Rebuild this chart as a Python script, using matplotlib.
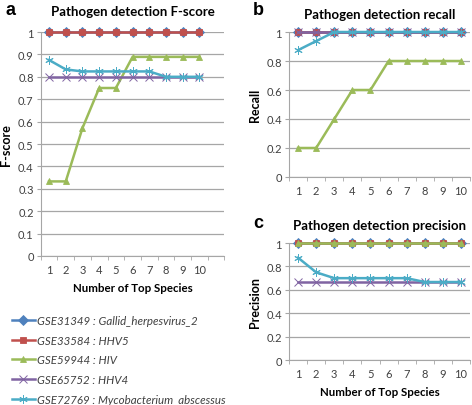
import numpy as np
import matplotlib
from matplotlib import pyplot as plt

matplotlib.rcParams.update({'font.family': 'Lato', 'font.size': 8})

top_species = [1, 2, 3, 4, 5, 6, 7, 8, 9, 10]
series_names = ['GSE31349 : Gallid_herpesvirus_2', 'GSE33584 : HHV5', 'GSE59944 : HIV',
                'GSE65752 : HHV4', 'GSE72769 : Mycobacterium_abscessus']

fscore_gallid = [1, 1, 1, 1, 1, 1, 1, 1, 1, 1]
fscore_hhv5 = [1, 1, 1, 1, 1, 1, 1, 1, 1, 1]
fscore_hiv = [0.333, 0.333, 0.571, 0.75, 0.75, 0.889, 0.889, 0.889, 0.889, 0.889]
fscore_hhv4 = [0.8, 0.8, 0.8, 0.8, 0.8, 0.8, 0.8, 0.8, 0.8, 0.8]
fscore_myco = [0.875, 0.833, 0.824, 0.824, 0.824, 0.824, 0.824, 0.8, 0.8, 0.8]

recall_gallid = [1, 1, 1, 1, 1, 1, 1, 1, 1, 1]
recall_hhv5 = [1, 1, 1, 1, 1, 1, 1, 1, 1, 1]
recall_hiv = [0.2, 0.2, 0.4, 0.6, 0.6, 0.8, 0.8, 0.8, 0.8, 0.8]
recall_hhv4 = [1, 1, 1, 1, 1, 1, 1, 1, 1, 1]
recall_myco = [0.875, 0.9375, 1, 1, 1, 1, 1, 1, 1, 1]

precision_gallid = [1, 1, 1, 1, 1, 1, 1, 1, 1, 1]
precision_hhv5 = [1, 1, 1, 1, 1, 1, 1, 1, 1, 1]
precision_hiv = [1, 1, 1, 1, 1, 1, 1, 1, 1, 1]
precision_hhv4 = [0.667, 0.667, 0.667, 0.667, 0.667, 0.667, 0.667, 0.667, 0.667, 0.667]
precision_myco = [0.875, 0.75, 0.7, 0.7, 0.7, 0.7, 0.7, 0.667, 0.667, 0.667]

colors = ['#4F81BD', '#C0504D', '#9BBB59', '#8064A2', '#4BACC6']
markers = ['D', 's', '^', 'x', (6, 2, 0)]
grid_col = '#A6A6A6'
text_col = '#404040'


def draw_panel(ax, data, title, ylabel, ystep, n_slots, title_pad, xlabel=True):
    for i, vals in enumerate(data):
        thin = i >= 3
        ax.plot(top_species, vals, color=colors[i], marker=markers[i],
                markersize=6 if thin else 5, linewidth=1.8,
                markeredgewidth=0.7 if thin else 0.6,
                markeredgecolor=colors[i], zorder=3 + i, clip_on=False,
                label=series_names[i])
    ax.set_xlim(0.5, n_slots + 0.5)
    ax.set_ylim(0, 1)
    ax.set_yticks(np.arange(0, 1.0001, ystep))
    ax.set_yticklabels(['0'] + ['%g' % v for v in np.arange(ystep, 1.0001, ystep)])
    ax.set_xticks(top_species)
    ax.set_xticks(np.arange(0.5, n_slots + 0.51, 1), minor=True)
    ax.tick_params(axis='x', which='major', length=0, pad=6, colors=text_col, labelsize=8)
    ax.tick_params(axis='x', which='minor', length=3, color=grid_col, direction='out')
    ax.tick_params(axis='y', length=3, color=grid_col, pad=2, colors=text_col, labelsize=8)
    ax.yaxis.grid(True, color=grid_col, linewidth=0.9)
    ax.set_axisbelow(True)
    for s in ['top', 'right']:
        ax.spines[s].set_visible(False)
    for s in ['left', 'bottom']:
        ax.spines[s].set_color(grid_col)
    ax.set_title(title, fontsize=9.5, fontweight='bold', pad=title_pad)
    ax.set_ylabel(ylabel, fontsize=9, fontweight='bold', labelpad=4)
    if xlabel:
        ax.set_xlabel('Number of Top Species', fontsize=8.3, fontweight='bold', labelpad=5)


fig = plt.figure(figsize=(4.72, 4.06), dpi=100)
ax_a = fig.add_axes([0.0862, 0.367, 0.3894, 0.5517])
ax_b = fig.add_axes([0.6123, 0.5616, 0.3835, 0.3571])
ax_c = fig.add_axes([0.6123, 0.1108, 0.3835, 0.288])

draw_panel(ax_a, [fscore_gallid, fscore_hhv5, fscore_hiv, fscore_hhv4, fscore_myco],
           'Pathogen detection F-score', 'F-score', 0.1, 11, 12)
draw_panel(ax_b, [recall_gallid, recall_hhv5, recall_hiv, recall_hhv4, recall_myco],
           'Pathogen detection recall', 'Recall', 0.2, 10, 10, xlabel=False)
draw_panel(ax_c, [precision_gallid, precision_hhv5, precision_hiv, precision_hhv4, precision_myco],
           'Pathogen detection precision', 'Precision', 0.2, 10, 10.5)

for x, y, lab in [(0.012, 0.974, 'a'), (0.536, 0.974, 'b'), (0.536, 0.45, 'c')]:
    fig.text(x, y, lab, fontsize=13, fontweight='bold', family='Liberation Sans', va='center')

handles, labels = ax_a.get_legend_handles_labels()
leg = fig.legend(handles, labels, loc='upper left', bbox_to_anchor=(0.025, 1 - 316 / 406),
                 frameon=False, borderpad=0, borderaxespad=0, handlelength=2.0,
                 handletextpad=0.15, labelspacing=0.75, prop={'style': 'italic', 'size': 8.3})
for t in leg.get_texts():
    t.set_color(text_col)

plt.savefig('out.png', dpi=100)
